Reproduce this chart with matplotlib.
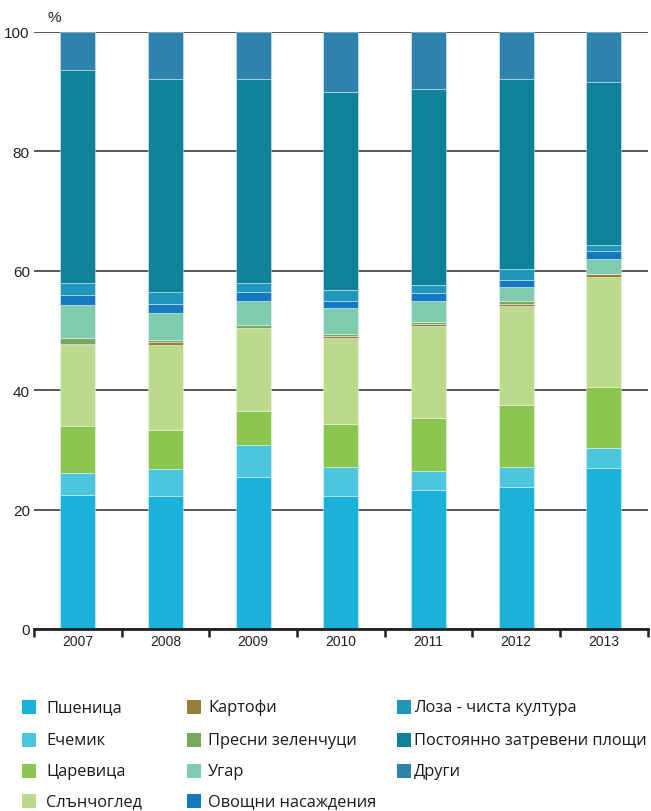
import matplotlib
matplotlib.use("Agg")
import matplotlib.pyplot as plt
from matplotlib.patches import Rectangle
import numpy as np

years = ["2007", "2008", "2009", "2010", "2011", "2012", "2013"]
categories = ["Пшеница", "Ечемик", "Царевица", "Слънчоглед", "Картофи",
              "Пресни зеленчуци", "Угар", "Овощни насаждения",
              "Лоза - чиста култура", "Постоянно затревени площи", "Други"]

wheat      = [22.5, 22.2, 25.5, 22.2, 23.2, 23.8, 26.9]
barley     = [3.7, 4.6, 5.3, 4.9, 3.3, 3.3, 3.5]
maize      = [7.8, 6.5, 5.7, 7.2, 8.8, 10.4, 10.2]
sunflower  = [13.5, 14.2, 13.9, 14.4, 15.5, 16.6, 18.4]
potatoes   = [0.3, 0.6, 0.1, 0.4, 0.3, 0.3, 0.4]
vegetables = [0.9, 0.3, 0.5, 0.3, 0.3, 0.6, 0.1]
fallow     = [5.6, 4.6, 4.0, 4.3, 3.6, 2.3, 2.4]
orchards   = [1.7, 1.4, 1.4, 1.3, 1.3, 1.2, 1.4]
vineyards  = [1.9, 2.0, 1.6, 1.8, 1.4, 1.8, 1.0]
grassland  = [35.8, 35.7, 34.1, 33.2, 32.7, 31.8, 27.4]
others     = [6.3, 7.9, 7.9, 10.0, 9.6, 7.9, 8.3]

series = [wheat, barley, maize, sunflower, potatoes, vegetables, fallow,
          orchards, vineyards, grassland, others]
colors = ["#1AB1DA", "#4BC6DD", "#8BC750", "#BCDA8B", "#947E3A", "#76A85E",
          "#80CBAE", "#137AC2", "#2196BC", "#0D8298", "#2D83AB"]

W, H = 651, 812
fig = plt.figure(figsize=(W / 100, H / 100), dpi=100)
ax = fig.add_axes([34 / W, 1 - 630 / H, (647.5 - 34) / W, (630 - 33) / H])

tick_font = ["Liberation Sans", "DejaVu Sans"]
leg_font = ["Open Sans", "DejaVu Sans"]

x = np.arange(len(years))
bottom = np.zeros(len(years))
for vals, col in zip(series, colors):
    v = np.array(vals)
    ax.bar(x, v, bottom=bottom, width=0.40, color=col,
           edgecolor=(1, 1, 1, 0.45), linewidth=0.6, zorder=3)
    bottom += v

ax.set_xlim(-0.5, len(years) - 0.5)
ax.set_ylim(0, 100)
ax.set_yticks([0, 20, 40, 60, 80, 100])
ax.yaxis.grid(True, color="#4a4a4a", linewidth=1.3, zorder=0)
ax.set_axisbelow(True)
for s in ["left", "right", "top"]:
    ax.spines[s].set_visible(False)
ax.spines["bottom"].set_linewidth(2.0)
ax.spines["bottom"].set_color("#222222")
ax.spines["bottom"].set_zorder(4)

ax.tick_params(axis="y", length=0, pad=3, labelsize=11, labelcolor="#222222")
for lab in ax.get_yticklabels():
    lab.set_family(tick_font)

ax.set_xticks(x)
ax.set_xticklabels(years, family=tick_font, fontsize=10, color="#222222")
ax.tick_params(axis="x", which="major", length=0, pad=3.5)
ax.set_xticks(np.arange(-0.5, len(years), 1.0), minor=True)
ax.tick_params(axis="x", which="minor", length=6, width=1.8, color="#222222",
               direction="out")

fig.text(54 / W, 1 - 18.5 / H, "%", family=tick_font, fontsize=11,
         ha="center", va="center", color="#222222")

# legend (manual, 3 columns)
col_patch_x = [22, 187, 397]
col_text_x = [46, 208, 414]
row_y = [708, 741, 772, 802]
psize = 14
for i, (name, col) in enumerate(zip(categories, colors)):
    c, r = divmod(i, 4)
    px, py = col_patch_x[c], row_y[r]
    fig.add_artist(Rectangle((px / W, 1 - (py + psize / 2) / H), psize / W,
                             psize / H, transform=fig.transFigure,
                             facecolor=col, edgecolor="none"))
    fig.text(col_text_x[c] / W, 1 - py / H, name, family=leg_font,
             fontsize=11.8, ha="left", va="center", color="#1a1a1a")

fig.savefig("out.png", dpi=100)
